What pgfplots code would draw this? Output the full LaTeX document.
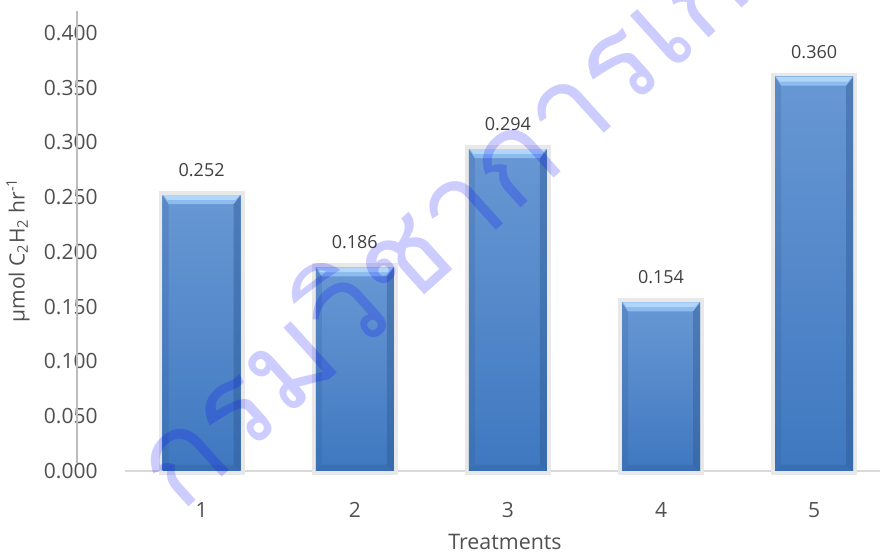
\documentclass[border=0pt]{standalone}
\usepackage{pgfplots}
\pgfplotsset{compat=1.18}
\usepackage{fontspec}
\setmainfont{Open Sans}
\newfontfamily\thaifont[Script=Thai]{Loma}

\definecolor{ticktext}{HTML}{505050}
\definecolor{valtext}{HTML}{404040}
\definecolor{xline}{HTML}{D9D9D9}
\definecolor{yline}{HTML}{BDBDBD}
\definecolor{bartop}{HTML}{6898D4}
\definecolor{barbot}{HTML}{3F78C0}
\definecolor{baredge}{HTML}{2F5A94}
\definecolor{bevlight}{HTML}{B2D6F9}
\definecolor{bevmid}{HTML}{8CBBEE}
\definecolor{stamp}{HTML}{0000FF}

\pgfkeys{/pgf/number format/assume math mode=true}

% rims and top bevel of a bar, drawn with basic-layer paths inside its path picture
\newcommand\barbevel{%
  \pgfpointanchor{path picture bounding box}{south west}\pgfgetlastxy\bx\by
  \pgfpointanchor{path picture bounding box}{north east}\pgfgetlastxy\ex\ey
  % right rim
  \pgfsetfillcolor{baredge}\pgfsetfillopacity{0.45}%
  \pgfpathmoveto{\pgfpoint{\ex}{\ey}}%
  \pgfpathlineto{\pgfpoint{\ex-3.5pt}{\ey-4.5pt}}%
  \pgfpathlineto{\pgfpoint{\ex-3.5pt}{\by+3pt}}%
  \pgfpathlineto{\pgfpoint{\ex}{\by}}%
  \pgfpathclose\pgfusepath{fill}%
  % left rim
  \pgfsetfillopacity{0.22}%
  \pgfpathmoveto{\pgfpoint{\bx}{\ey}}%
  \pgfpathlineto{\pgfpoint{\bx+3pt}{\ey-4.5pt}}%
  \pgfpathlineto{\pgfpoint{\bx+3pt}{\by+3pt}}%
  \pgfpathlineto{\pgfpoint{\bx}{\by}}%
  \pgfpathclose\pgfusepath{fill}%
  % bottom rim
  \pgfsetfillopacity{0.3}%
  \pgfpathmoveto{\pgfpoint{\bx}{\by}}%
  \pgfpathlineto{\pgfpoint{\bx+3pt}{\by+3pt}}%
  \pgfpathlineto{\pgfpoint{\ex-3.5pt}{\by+3pt}}%
  \pgfpathlineto{\pgfpoint{\ex}{\by}}%
  \pgfpathclose\pgfusepath{fill}%
  % top bevel
  \pgfsetfillopacity{1}\pgfsetfillcolor{bevmid}%
  \pgfpathmoveto{\pgfpoint{\bx}{\ey}}%
  \pgfpathlineto{\pgfpoint{\bx+3pt}{\ey-4.5pt}}%
  \pgfpathlineto{\pgfpoint{\ex-3.5pt}{\ey-4.5pt}}%
  \pgfpathlineto{\pgfpoint{\ex}{\ey}}%
  \pgfpathclose\pgfusepath{fill}%
  \pgfsetfillcolor{bevlight}%
  \pgfpathmoveto{\pgfpoint{\bx+0.5pt}{\ey}}%
  \pgfpathlineto{\pgfpoint{\bx+2.3pt}{\ey-2.4pt}}%
  \pgfpathlineto{\pgfpoint{\ex-2.6pt}{\ey-2.4pt}}%
  \pgfpathlineto{\pgfpoint{\ex-0.5pt}{\ey}}%
  \pgfpathclose\pgfusepath{fill}%
}

\tikzset{
  bevel bar/.style={
    draw=none, top color=bartop, bottom color=barbot,
    preaction={draw=black!9, line width=4pt},
    path picture={\barbevel},
  },
}

\begin{document}
\begin{tikzpicture}
\useasboundingbox (0,0) rectangle (440pt,276pt);
\clip (0,0) rectangle (440pt,276pt);

\begin{axis}[
  at={(38.5pt,40.5pt)}, anchor=south west,
  scale only axis, width=401.5pt, height=230pt,
  xmin=0.186, xmax=5.43, ymin=0, ymax=0.42,
  axis line style={draw=none},
  major tick length=0pt,
  ybar, bar width=39pt, bar shift=0pt,
  xtick={1,2,3,4,5},
  ytick={0,0.05,0.1,0.15,0.2,0.25,0.3,0.35,0.4},
  scaled y ticks=false,
  yticklabel style={/pgf/number format/.cd, fixed, zerofill, precision=3, /tikz/.cd,
    anchor=east, inner sep=0pt, xshift=10.5pt,
    font=\fontsize{10.5pt}{12pt}\selectfont, text=ticktext},
  xticklabel style={anchor=north, inner sep=0pt, yshift=-15.5pt,
    font=\fontsize{10.5pt}{12pt}\selectfont, text=ticktext},
  nodes near coords={\pgfmathprintnumber[fixed,zerofill,precision=3]{\pgfplotspointmeta}},
  every node near coord/.append style={anchor=south, inner sep=0pt, yshift=9pt,
    font=\fontsize{9pt}{11pt}\selectfont, text=valtext},
  clip=false,
]
% axis lines
\draw[xline, line width=0.8pt] (axis cs:0.5,0) -- (axis cs:5.43,0);
\draw[yline, line width=0.8pt] (rel axis cs:0,1) -- (axis cs:0.186,0.0075);

\addplot[bevel bar] coordinates {(1,0.252)};
\addplot[bevel bar] coordinates {(2,0.186)};
\addplot[bevel bar] coordinates {(3,0.294)};
\addplot[bevel bar] coordinates {(4,0.154)};
\addplot[bevel bar] coordinates {(5,0.360)};
\end{axis}

% axis titles
\node[font=\fontsize{10.7pt}{12pt}\selectfont, text=ticktext] at (252.5pt,5pt) {Treatments};
\node[rotate=90, font=\fontsize{10.5pt}{12pt}\selectfont, text=ticktext] at (9pt,151pt)
  {µmol C\textsubscript{2}H\textsubscript{2} hr\textsuperscript{-1}};

% stamp
\node[rotate=42, anchor=base west, inner sep=0pt, text=stamp, text opacity=0.2,
  font=\thaifont\fontsize{62pt}{62pt}\selectfont] at (90pt,18.5pt) {กรมวิชาการเกษตร};
\end{tikzpicture}
\end{document}
